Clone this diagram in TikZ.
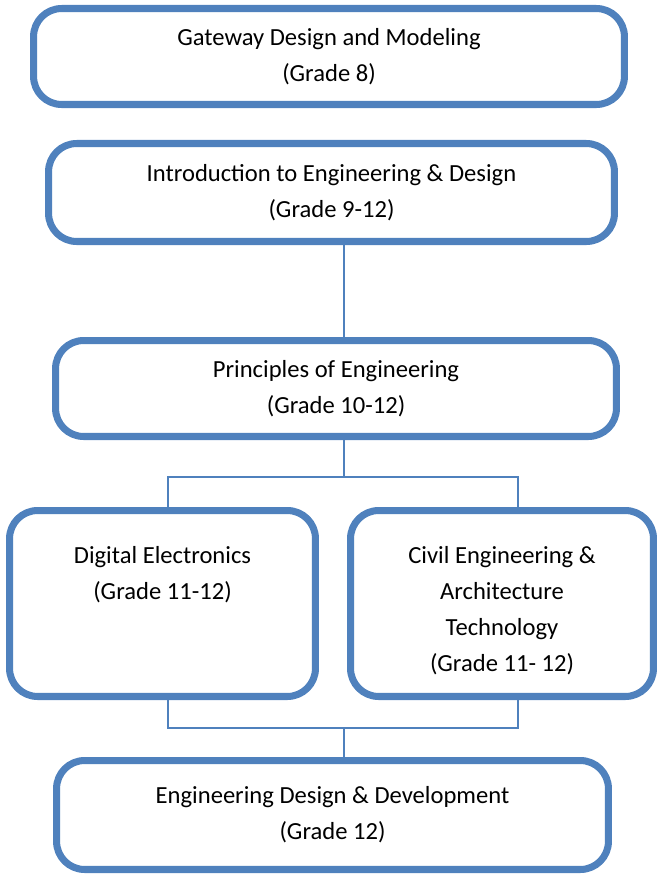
\documentclass[tikz,border=0pt]{standalone}
\usepackage{fontspec}
\setmainfont{Carlito}
\usepackage{tikz}
\usetikzlibrary{positioning}
\definecolor{boxblue}{RGB}{79,129,189}
\tikzset{
  course/.style = {draw=boxblue, line width=4pt, rectangle, rounded corners=16pt, fill=white},
  title/.style  = {align=center, font=\fontsize{14}{20.5}\selectfont},
  link/.style   = {draw=boxblue, line width=1.6pt}
}

\begin{document}
\begin{tikzpicture}[x=0.02cm, y=-0.02cm]
\useasboundingbox (0,0) rectangle (662,876);

% Top row
\draw node [course, title, minimum width=11.82cm, minimum height=1.92cm] (gdm) at (329,56.5)
  {Gateway Design and Modeling\\(Grade 8)};
\draw node [course, title, minimum width=11.32cm, minimum height=1.96cm] (ied) at (331.5,192.5)
  {Introduction to Engineering \& Design\\(Grade 9-12)};
\draw node [course, title, minimum width=11.22cm, minimum height=1.92cm] (poe) at (336,388.5)
  {Principles of Engineering\\(Grade 10-12)};

% Specialization
\draw node [course, minimum width=6.12cm, minimum height=3.72cm] (de) at (162.5,603.5) {};
\draw node [course, minimum width=6.06cm, minimum height=3.72cm] (cea) at (502,603.5) {};
\draw node [title, below=0.67cm of de.north] (detxt) {Digital Electronics\\(Grade 11-12)};
\draw node [title, below=0.67cm of cea.north] (ceatxt)
  {Civil Engineering \&\\Architecture\\Technology\\(Grade 11- 12)};

% Capstone
\draw node [course, title, minimum width=11.04cm, minimum height=2.18cm] (edd) at (332.5,815)
  {Engineering Design \& Development\\(Grade 12)};

% Connections
\coordinate (top) at (344,477);
\coordinate (bot) at (344,728);
\coordinate (lx) at (168,0);
\coordinate (rx) at (518,0);
\draw[link] (ied.south -| top) -- (poe.north -| top);
\draw[link] (poe.south -| top) -- (top);
\draw[link] (de.north -| lx) |- (top) -| (cea.north -| rx);
\draw[link] (de.south -| lx) |- (bot) -| (cea.south -| rx);
\draw[link] (bot) -- (edd.north -| bot);

\end{tikzpicture}
\end{document}
